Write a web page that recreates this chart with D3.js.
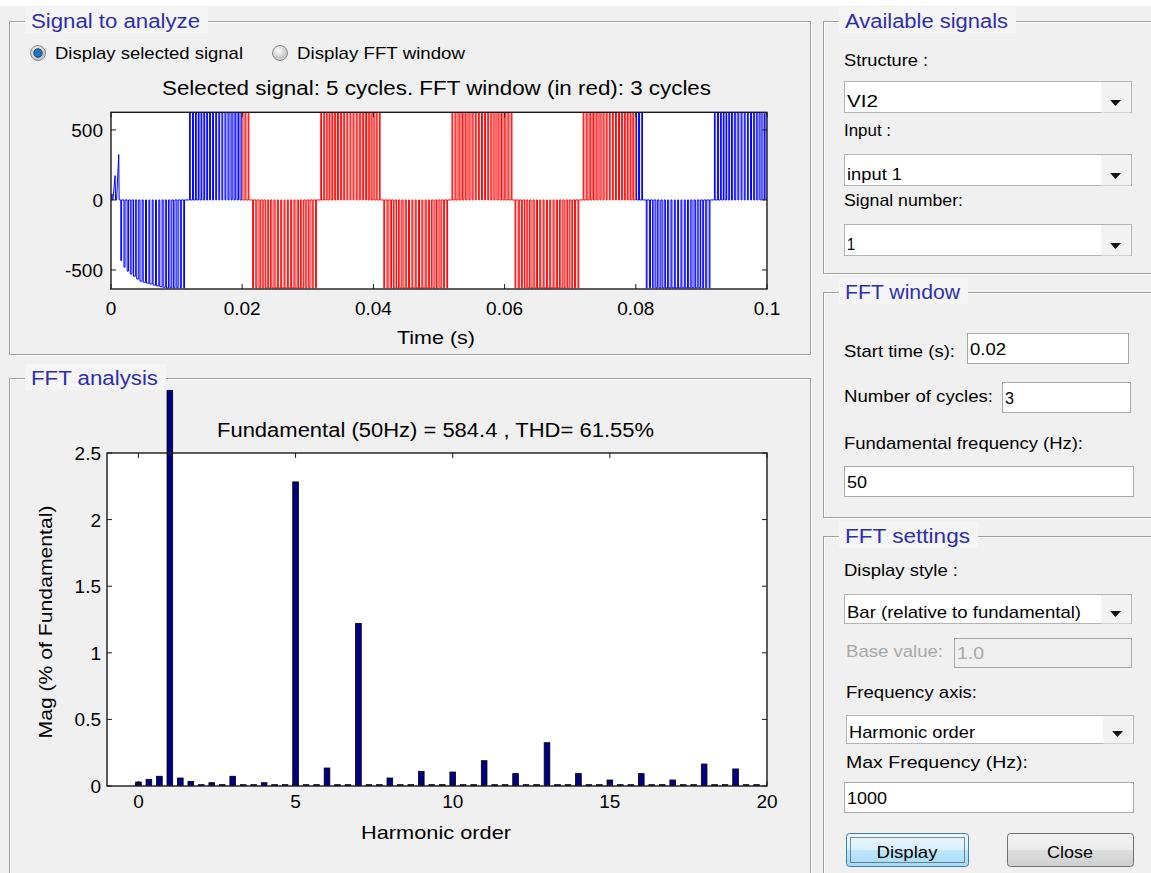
<!DOCTYPE html>
<html>
<head>
<meta charset="utf-8">
<script src="https://cdn.jsdelivr.net/npm/d3@7"></script>
<style>
  html, body { margin: 0; padding: 0; background: #f0f0f0; }
  svg { display: block; }
  text { font-family: "Liberation Sans", Arial, sans-serif; }
</style>
</head>
<body>
<svg id="fig" width="1151" height="873"></svg>
<script>
// ---------------- DATA ----------------
// Signal to analyze (PWM line voltage), times in seconds
const sigTimeTicks = [0, 0.02, 0.04, 0.06, 0.08, 0.1];
const sigTimeTickLabels = ["0", "0.02", "0.04", "0.06", "0.08", "0.1"];
const sigValueTicks = [500, 0, -500];
const sigValueTickLabels = ["500", "0", "-500"];
const fftWindow = [0.02, 0.08];           // red part (3 cycles)
// start-up spikes before the first half cycle [t, v]
const startupPoints = [[0, 0], [0.00005, 12], [0.00015, 43], [0.0002, 0], [0.0003, 0], [0.00062, 174], [0.0007, 0], [0.00085, 0], [0.00118, 324], [0.00124, 0]];
// half cycles: start, end, polarity
const halfStart = [0.0013, 0.0118, 0.0214, 0.0318, 0.0414, 0.0518, 0.0614, 0.0718, 0.0814, 0.0918];
const halfEnd   = [0.0114, 0.0212, 0.0315, 0.0412, 0.0515, 0.0613, 0.0715, 0.0812, 0.0915, 0.1014];
const halfSign  = [-1, 1, -1, 1, -1, 1, -1, 1, -1, 1];
const posLevel = 624, negLevel = -628;
// amplitudes of pulses during the first (charging) half cycle
const startupAmps = [-433, -480, -509, -530, -545, -565, -580, -588, -594, -600, -608, -614, -620, -624, -628, -628, -628, -628, -628, -628];
// pulse on-intervals as fractions of a half cycle
const pulsePattern = [[0.019, 0.031], [0.067, 0.083], [0.115, 0.135], [0.163, 0.187], [0.211, 0.239],
  [0.260, 0.290], [0.309, 0.341], [0.358, 0.392], [0.407, 0.443], [0.457, 0.493],
  [0.507, 0.543], [0.557, 0.593], [0.608, 0.642], [0.659, 0.691], [0.710, 0.740],
  [0.761, 0.789], [0.813, 0.837], [0.865, 0.885], [0.917, 0.933], [0.969, 0.981]];

// FFT analysis (relative to fundamental, %)
const harmonicOrder = [0, 0.333, 0.667, 1, 1.333, 1.667, 2, 2.333, 2.667, 3, 3.333, 3.667, 4, 4.333, 4.667,
  5, 5.333, 5.667, 6, 6.333, 6.667, 7, 7.333, 7.667, 8, 8.333, 8.667, 9, 9.333, 9.667,
  10, 10.333, 10.667, 11, 11.333, 11.667, 12, 12.333, 12.667, 13, 13.333, 13.667, 14, 14.333, 14.667,
  15, 15.333, 15.667, 16, 16.333, 16.667, 17, 17.333, 17.667, 18, 18.333, 18.667, 19, 19.333, 19.667];
const magnitude = [0.03, 0.05, 0.073, 100, 0.06, 0.035, 0.01, 0.025, 0.01, 0.073, 0.01, 0.01, 0.025, 0.01, 0.01,
  2.283, 0.01, 0.01, 0.135, 0.01, 0.01, 1.221, 0.01, 0.01, 0.06, 0.01, 0.01, 0.11, 0.01, 0.01,
  0.105, 0.01, 0.01, 0.19, 0.01, 0.01, 0.093, 0.01, 0.01, 0.325, 0.01, 0.01, 0.093, 0.01, 0.01,
  0.045, 0.01, 0.01, 0.093, 0.01, 0.01, 0.045, 0.01, 0.01, 0.165, 0.01, 0.01, 0.128, 0.01, 0.01];
const fftXTicks = [0, 5, 10, 15, 20];
const fftYTicks = [0, 0.5, 1, 1.5, 2, 2.5];
const fftYTickLabels = ["0", "0.5", "1", "1.5", "2", "2.5"];

// ---------------- DRAW ----------------
const svg = d3.select("#fig");
const BG = "#f0f0f0";
svg.append("rect").attr("width", 1151).attr("height", 873).attr("fill", BG);
svg.append("rect").attr("width", 1151).attr("height", 6).attr("fill", "#ffffff");

function txt(g, x, y, s, o = {}) {
  const t = g.append("text").attr("x", x).attr("y", y).text(s)
    .attr("font-size", o.size || 17)
    .attr("fill", o.fill || "#000")
    .attr("text-anchor", o.anchor || "start");
  if (o.width) t.attr("textLength", o.width).attr("lengthAdjust", "spacingAndGlyphs");
  return t;
}

function panel(x, y, w, h, label, labelW) {
  svg.append("rect").attr("x", x + 1.5).attr("y", y + 1.5).attr("width", w).attr("height", h)
    .attr("fill", "none").attr("stroke", "#ffffff").attr("stroke-width", 1);
  svg.append("rect").attr("x", x + 0.5).attr("y", y + 0.5).attr("width", w).attr("height", h)
    .attr("fill", "none").attr("stroke", "#a0a0a0").attr("stroke-width", 1);
  svg.append("rect").attr("x", x + 16).attr("y", y - 14).attr("width", labelW + 8).attr("height", 26)
    .attr("fill", "#f5f5f5");
  txt(svg, x + 22, y + 7, label, { size: 20, fill: "#2e2eae", width: labelW - 6 });
}

// Panels
panel(9, 21, 801, 333, "Signal to analyze", 175);
panel(9, 378, 801, 520, "FFT analysis", 133);
panel(823, 21, 330, 252, "Available signals", 169);
panel(823, 292, 330, 225, "FFT window", 121);
panel(823, 536, 330, 360, "FFT settings", 131);

// Radio buttons
function radio(cx, cy, on) {
  const grad = svg.append("defs").append("radialGradient").attr("id", "rg" + cx)
    .attr("cx", "40%").attr("cy", "35%");
  grad.append("stop").attr("offset", "0%").attr("stop-color", "#ffffff");
  grad.append("stop").attr("offset", "100%").attr("stop-color", "#c8c8c8");
  svg.append("circle").attr("cx", cx).attr("cy", cy).attr("r", 7.5).attr("fill", "url(#rg" + cx + ")")
    .attr("stroke", "#8a8a8a").attr("stroke-width", 1);
  if (on) {
    svg.append("circle").attr("cx", cx).attr("cy", cy).attr("r", 4.2).attr("fill", "#1c78c0")
      .attr("stroke", "#0d3f6e").attr("stroke-width", 1);
  }
}
radio(38, 53, true);
radio(280, 53, false);
txt(svg, 55, 59, "Display selected signal", { size: 17, width: 188 });
txt(svg, 297, 59, "Display FFT window", { size: 17, width: 168 });

// ---------- Signal plot ----------
const sx = d3.scaleLinear().domain([0, 0.1]).range([111, 767]);
const sy = d3.scaleLinear().domain([-636, 626]).range([289, 112.3]);
txt(svg, 436.5, 95, "Selected signal: 5 cycles. FFT window (in red): 3 cycles", { size: 20, anchor: "middle", width: 549 });
svg.append("rect").attr("x", sx(0)).attr("y", sy(626)).attr("width", sx(0.1) - sx(0)).attr("height", sy(-636) - sy(626))
  .attr("fill", "#ffffff");

// build signal points
const pts = startupPoints.map(d => d.slice());
halfStart.forEach((ts, i) => {
  const te = halfEnd[i];
  const dur = te - ts;
  pts.push([ts, 0]);
  pulsePattern.forEach((p, k) => {
    const a = i === 0 ? startupAmps[k] : (halfSign[i] > 0 ? posLevel : negLevel);
    const t1 = ts + p[0] * dur, t2 = ts + p[1] * dur;
    pts.push([t1, 0], [t1, a], [t2, a], [t2, 0]);
  });
  pts.push([te, 0]);
});
const line = d3.line().x(d => sx(d[0])).y(d => sy(d[1]));
const defs = svg.append("defs");
defs.append("clipPath").attr("id", "clipBlue").selectAll("rect")
  .data([[0, fftWindow[0]], [fftWindow[1], 0.1]]).join("rect")
  .attr("x", d => sx(d[0])).attr("width", d => sx(d[1]) - sx(d[0]))
  .attr("y", sy(626) - 1).attr("height", sy(-636) - sy(626) + 2);
defs.append("clipPath").attr("id", "clipRed").append("rect")
  .attr("x", sx(fftWindow[0])).attr("width", sx(fftWindow[1]) - sx(fftWindow[0]))
  .attr("y", sy(626) - 1).attr("height", sy(-636) - sy(626) + 2);
svg.append("path").attr("d", line(pts)).attr("fill", "none").attr("stroke", "#0000ff")
  .attr("stroke-width", 1).attr("clip-path", "url(#clipBlue)");
svg.append("path").attr("d", line(pts)).attr("fill", "none").attr("stroke", "#ff0000")
  .attr("stroke-width", 1).attr("clip-path", "url(#clipRed)");

function boxAxes(xs, ys, xt, yt) {
  const [x0, x1] = xs.range(), [y0, y1] = ys.range();
  const g = svg.append("g").attr("stroke", "#1a1a1a");
  g.append("rect").attr("x", x0).attr("y", y1).attr("width", x1 - x0).attr("height", y0 - y1)
    .attr("fill", "none").attr("stroke-width", 1.4);
  xt.forEach(v => {
    const x = xs(v);
    g.append("line").attr("x1", x).attr("x2", x).attr("y1", y0).attr("y2", y0 - 5).attr("stroke-width", 1);
    g.append("line").attr("x1", x).attr("x2", x).attr("y1", y1).attr("y2", y1 + 5).attr("stroke-width", 1);
  });
  yt.forEach(v => {
    const y = ys(v);
    g.append("line").attr("x1", x0).attr("x2", x0 + 5).attr("y1", y).attr("y2", y).attr("stroke-width", 1);
    g.append("line").attr("x1", x1).attr("x2", x1 - 5).attr("y1", y).attr("y2", y).attr("stroke-width", 1);
  });
}
boxAxes(sx, sy, sigTimeTicks, sigValueTicks);
sigTimeTicks.forEach((v, i) => txt(svg, sx(v), 315, sigTimeTickLabels[i], { size: 19, anchor: "middle" }));
sigValueTicks.forEach((v, i) => txt(svg, 103, sy(v) + 7, sigValueTickLabels[i], { size: 19, anchor: "end" }));
txt(svg, 436, 344, "Time (s)", { size: 19, anchor: "middle", width: 78 });

// ---------- FFT plot ----------
const fx = d3.scaleLinear().domain([-1, 20]).range([107, 767]);
const fy = d3.scaleLinear().domain([0, 2.5]).range([786, 453]);
txt(svg, 435.5, 437, "Fundamental (50Hz) = 584.4 , THD= 61.55%", { size: 20, anchor: "middle", width: 437 });
svg.append("rect").attr("x", fx(-1)).attr("y", fy(2.5)).attr("width", fx(20) - fx(-1)).attr("height", fy(0) - fy(2.5))
  .attr("fill", "#ffffff");
defs.append("clipPath").attr("id", "clipFFT").append("rect")
  .attr("x", fx(-1)).attr("width", fx(20) - fx(-1)).attr("y", 390).attr("height", fy(0) - 390);
const halfW = 0.09;
svg.append("g").attr("clip-path", "url(#clipFFT)").selectAll("rect")
  .data(harmonicOrder.map((h, i) => ({ h, m: magnitude[i] }))).join("rect")
  .attr("x", d => fx(d.h - halfW)).attr("width", d => fx(d.h + halfW) - fx(d.h - halfW))
  .attr("y", d => fy(d.m)).attr("height", d => fy(0) - fy(d.m))
  .attr("fill", "#000080").attr("stroke", "#000000").attr("stroke-width", 0.8);
boxAxes(fx, fy, fftXTicks, fftYTicks);
fftXTicks.forEach(v => txt(svg, fx(v), 808, String(v), { size: 19, anchor: "middle" }));
fftYTicks.forEach((v, i) => txt(svg, 101, fy(v) + 7, fftYTickLabels[i], { size: 19, anchor: "end" }));
txt(svg, 436, 839, "Harmonic order", { size: 19, anchor: "middle", width: 150 });
txt(svg, 0, 0, "Mag (% of Fundamental)", { size: 19, anchor: "middle", width: 233 })
  .attr("transform", "translate(52,622) rotate(-90)");

// ---------- Right controls ----------
function dropdown(x, y, w, h, label) {
  svg.append("rect").attr("x", x + 0.5).attr("y", y + 0.5).attr("width", w).attr("height", h)
    .attr("fill", "#ffffff").attr("stroke", "#b4b4b4");
  svg.append("rect").attr("x", x + w - 30).attr("y", y + 1).attr("width", 29.5).attr("height", h - 0.5)
    .attr("fill", "#f2f2f2");
  svg.append("path").attr("d", `M${x + w - 21},${y + h - 12} h11 l-5.5,6 z`).attr("fill", "#111");
  txt(svg, x + 3, y + h - 5, label.text, { size: 17, width: label.w });
}
function inputBox(x, y, w, h, s, tw, grey) {
  svg.append("rect").attr("x", x + 0.5).attr("y", y + 0.5).attr("width", w).attr("height", h)
    .attr("fill", grey ? "#f0f0f0" : "#ffffff").attr("stroke", "#a9a9a9");
  txt(svg, x + 3, y + h / 2 + 6.5, s, { size: 17, width: tw, fill: grey ? "#a8a8a8" : "#000" });
}

txt(svg, 844, 66, "Structure :", { size: 17, width: 84 });
dropdown(844, 81, 287, 31, { text: "VI2", w: 31 });
txt(svg, 844, 136, "Input :", { size: 17, width: 47 });
dropdown(844, 154, 287, 31, { text: "input 1", w: 55 });
txt(svg, 844, 206, "Signal number:", { size: 17, width: 119 });
dropdown(844, 224, 287, 31, { text: "1", w: 8 });

txt(svg, 844, 357, "Start time (s):", { size: 17, width: 111 });
inputBox(967, 333, 161, 30, "0.02", 36);
txt(svg, 844, 402, "Number of cycles:", { size: 17, width: 149 });
inputBox(1002, 382, 128, 30, "3", 9);
txt(svg, 844, 449, "Fundamental frequency (Hz):", { size: 17, width: 239 });
inputBox(844, 466, 289, 30, "50", 20);

txt(svg, 844, 576, "Display style :", { size: 17, width: 114 });
dropdown(844, 594, 287, 29, { text: "Bar (relative to fundamental)", w: 234 });
txt(svg, 846, 657, "Base value:", { size: 17, width: 97, fill: "#a8a8a8" });
inputBox(954, 638, 177, 29, "1.0", 27, true);
txt(svg, 846, 698, "Frequency axis:", { size: 17, width: 131 });
dropdown(846, 715, 287, 28, { text: "Harmonic order", w: 126 });
txt(svg, 846, 768, "Max Frequency (Hz):", { size: 17, width: 182 });
inputBox(844, 782, 289, 30, "1000", 40);

// Buttons
const gb = defs.append("linearGradient").attr("id", "gBlue").attr("x1", 0).attr("y1", 0).attr("x2", 0).attr("y2", 1);
gb.append("stop").attr("offset", "0%").attr("stop-color", "#eaf6fd");
gb.append("stop").attr("offset", "50%").attr("stop-color", "#d9f0fc");
gb.append("stop").attr("offset", "51%").attr("stop-color", "#bee6fd");
gb.append("stop").attr("offset", "100%").attr("stop-color", "#a7d9f5");
const gg = defs.append("linearGradient").attr("id", "gGrey").attr("x1", 0).attr("y1", 0).attr("x2", 0).attr("y2", 1);
gg.append("stop").attr("offset", "0%").attr("stop-color", "#f2f2f2");
gg.append("stop").attr("offset", "50%").attr("stop-color", "#ebebeb");
gg.append("stop").attr("offset", "51%").attr("stop-color", "#dddddd");
gg.append("stop").attr("offset", "100%").attr("stop-color", "#cfcfcf");
svg.append("rect").attr("x", 846.5).attr("y", 833.5).attr("width", 122).attr("height", 33).attr("rx", 3)
  .attr("fill", "url(#gBlue)").attr("stroke", "#3c7fb1");
svg.append("rect").attr("x", 850.5).attr("y", 837.5).attr("width", 114).attr("height", 25)
  .attr("fill", "none").attr("stroke", "#222").attr("stroke-dasharray", "1,1");
txt(svg, 907, 858, "Display", { size: 17, anchor: "middle", width: 61 });
svg.append("rect").attr("x", 1007.5).attr("y", 833.5).attr("width", 126).attr("height", 33).attr("rx", 3)
  .attr("fill", "url(#gGrey)").attr("stroke", "#707070");
txt(svg, 1070, 858, "Close", { size: 17, anchor: "middle", width: 46 });
</script>
</body>
</html>
